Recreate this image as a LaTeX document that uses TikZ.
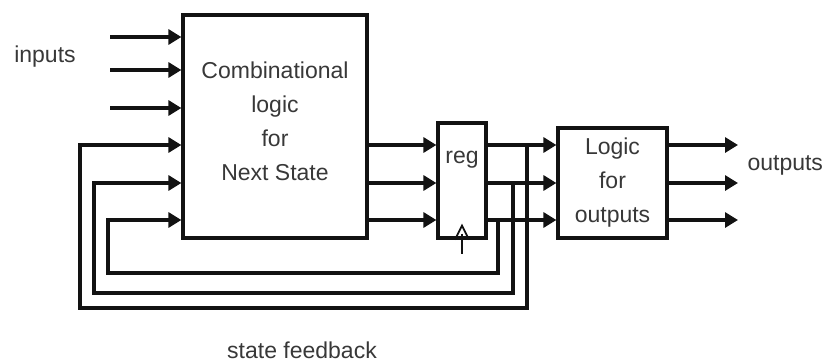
\documentclass[tikz,border=0pt]{standalone}
\usepackage{fontspec}
\setmainfont{Liberation Sans}
\usetikzlibrary{arrows.meta,positioning}
\definecolor{fsmInk}{HTML}{121212}
\definecolor{fsmText}{HTML}{383838}
\tikzset{
  fsm block/.style={
    draw=fsmInk,
    fill=white,
    line width=3.2pt,
    inner sep=0pt,
    font=\fontsize{23}{34}\selectfont,
    text=fsmText,
    align=center
  },
  fsm wire/.style={draw=fsmInk, line width=3.1pt},
  fsm signal/.style={
    fsm wire,
    -{Triangle[length=13pt,width=15pt]}
  },
  fsm clock/.style={draw=fsmInk, line width=1.8pt},
  fsm label/.style={font=\fontsize{23}{27}\selectfont, text=fsmText}
}

\begin{document}
\begin{tikzpicture}[x=1pt,y=-1pt]
  \useasboundingbox (0,0) rectangle (825,364);

  \node[fsm block, minimum width=184pt, minimum height=223pt] (nextstate) at (275,126.5) {};
  \node[fsm label, align=center, font=\fontsize{23}{34}\selectfont] (nslabel) at (275,121)
    {Combinational\\logic\\for\\Next State};
  \node[fsm block, minimum width=48pt, minimum height=115pt] (reg) at (462,180.5) {};
  \node[fsm label] (reglabel) at (462,160) {reg};
  \node[fsm block, minimum width=109pt, minimum height=110pt] (outlogic) at (612.5,183)
    {Logic\\for\\outputs};

  % primary inputs
  \foreach \i/\ry in {1/37, 2/70, 3/108} {
    \coordinate (in\i) at (110,\ry);
    \draw[fsm signal] (in\i) -- (in\i -| nextstate.west);
  }

  % state bits, outputs and feedback
  \foreach \i/\ry/\tx/\by/\lx in {1/145/527/308/80, 2/183/513/293/94, 3/220/498/273/108} {
    \coordinate (row\i) at (0,\ry);
    \coordinate (out\i) at (738,\ry);
    \draw[fsm signal] (nextstate.east |- row\i) -- (reg.west |- row\i);
    \draw[fsm signal] (reg.east |- row\i) -- (outlogic.west |- row\i);
    \draw[fsm signal] (outlogic.east |- row\i) -- (out\i);
    \coordinate (tap\i) at (\tx,\ry);
    \coordinate (turn\i) at (\lx,\by);
    \draw[fsm signal] (tap\i) |- (turn\i) |- (nextstate.west |- tap\i);
  }

  % clock
  \coordinate (clk) at ([yshift=-14pt]reg.south);
  \draw[fsm clock] ([xshift=-7pt]reg.south) -- ([yshift=14pt]reg.south) -- ([xshift=7pt]reg.south);
  \draw[fsm clock] ([yshift=6pt]reg.south) -- (clk);

  \node[fsm label] (inputslabel) at (45,57) {inputs};
  \node[fsm label, anchor=west] (outputslabel) at (744,165) {outputs};
  \node[fsm label] (feedbacklabel) at (302,350) {state feedback};
\end{tikzpicture}
\end{document}
